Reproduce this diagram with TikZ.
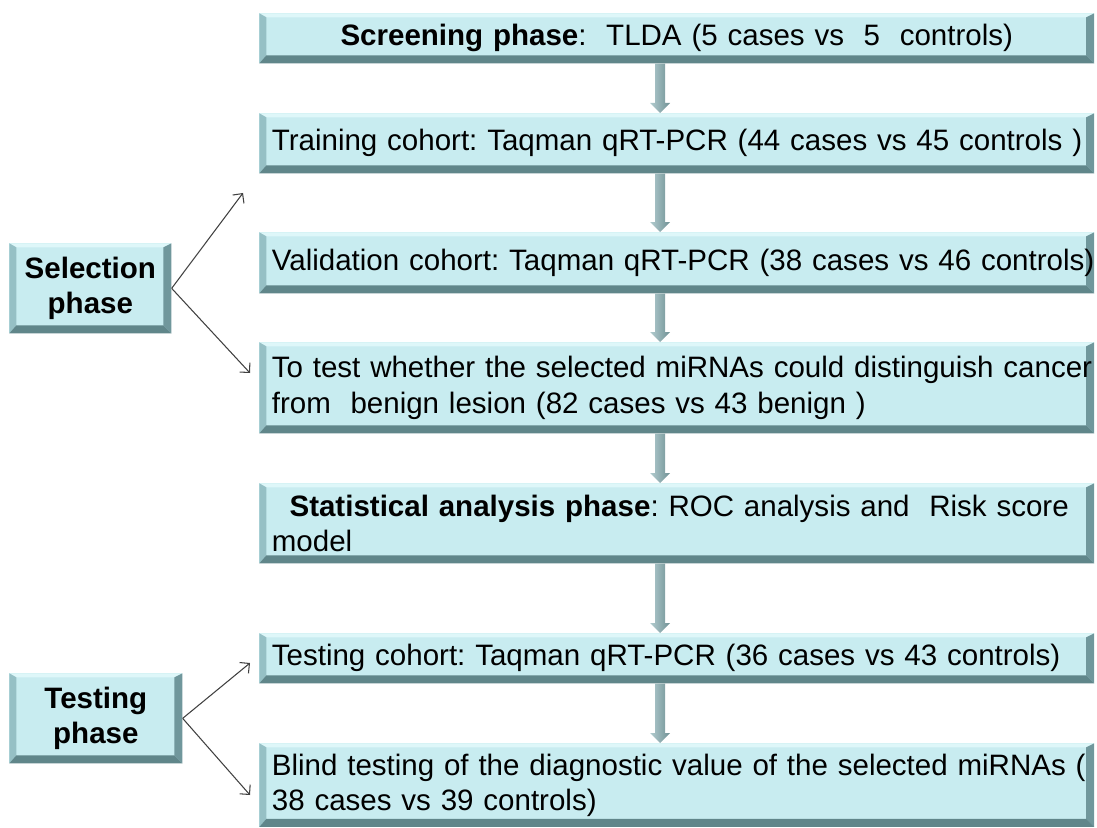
\documentclass[tikz,border=0pt]{standalone}
\usepackage{fontspec}
\setmainfont{Liberation Sans}
\usetikzlibrary{arrows.meta,calc}
\frenchspacing

\definecolor{boxfill}{RGB}{200,236,240}
\definecolor{boxlight}{RGB}{222,247,249}
\definecolor{boxside}{RGB}{150,192,197}
\definecolor{boxdark}{RGB}{96,134,138}
\definecolor{arrlight}{RGB}{178,204,207}
\definecolor{arrdark}{RGB}{112,145,149}

\tikzset{
  bevelbox/.style={fill=boxfill, inner xsep=0.25cm, inner ysep=0pt,
    anchor=north west, font=\fontsize{16.8}{20}\selectfont,
    path picture={
      \coordinate (bbsw) at (path picture bounding box.south west);
      \coordinate (bbne) at (path picture bounding box.north east);
      % bord haut clair
      \fill[boxlight] (bbsw |- bbne) -- (bbne) -- ($(bbne)+(-0.16cm,-0.08cm)$)
        -- ($(bbsw |- bbne)+(0.14cm,-0.08cm)$) -- cycle;
      % bord gauche
      \fill[boxside] (bbsw) -- (bbsw |- bbne) -- ($(bbsw |- bbne)+(0.14cm,-0.08cm)$)
        -- ($(bbsw)+(0.14cm,0.16cm)$) -- cycle;
      % bord droit
      \fill[boxdark!70!boxside] (bbne) -- (bbsw -| bbne) -- ($(bbsw -| bbne)+(-0.16cm,0.16cm)$)
        -- ($(bbne)+(-0.16cm,-0.08cm)$) -- cycle;
      % bord bas fonce
      \fill[boxdark] (bbsw) -- (bbsw -| bbne) -- ($(bbsw -| bbne)+(-0.16cm,0.16cm)$)
        -- ($(bbsw)+(0.14cm,0.16cm)$) -- cycle;
    }},
  mainbox/.style={bevelbox, text width=16.2cm, align=left},
  phasebox/.style={bevelbox, align=center, font=\bfseries\fontsize{16.8}{20}\selectfont},
  blockarrow/.style={left color=arrlight, right color=arrdark},
  thinarrow/.style={draw=black!75, line width=0.6pt, -{Straight Barb[length=4pt,width=8pt]}}
}

\begin{document}
\begin{tikzpicture}[x=0.02cm, y=-0.02cm]

  % cadre de la figure (en pixels)
  \useasboundingbox (0,0) rectangle (1097,827);

  % ==============================================
  % 1. Colonne des etapes
  % ==============================================
  \node[mainbox, align=center, minimum height=1.0cm] (scr) at (259,13)
    {\textbf{Screening phase}:\ \ TLDA (5 cases vs\ \ 5\ \ controls)};
  \node[mainbox, minimum height=1.2cm] (trn) at (259,113)
    {\mbox{Training cohort: Taqman qRT-PCR (44 cases vs 45 controls )}};
  \node[mainbox, minimum height=1.22cm] (val) at (259,232)
    {\mbox{Validation cohort: Taqman qRT-PCR (38 cases vs 46 controls)}};
  \node[mainbox, minimum height=1.82cm] (dis) at (259,342)
    {\mbox{To test whether the selected miRNAs could distinguish cancer}\\from\ \ benign lesion (82 cases vs 43 benign )};
  \node[mainbox, minimum height=1.6cm] (stat) at (259,483)
    {\hspace*{0.6em}\textbf{Statistical analysis phase}: ROC analysis and\ \ Risk score\\model};
  \node[mainbox, minimum height=1.0cm] (tst) at (259,633)
    {Testing cohort: Taqman qRT-PCR (36 cases vs 43 controls)};
  \node[mainbox, minimum height=1.67cm] (bld) at (259,743)
    {\mbox{Blind testing of the diagnostic value of the selected miRNAs (}\\38 cases vs 39 controls)};

  % ==============================================
  % 2. Phases a gauche
  % ==============================================
  \node[phasebox, minimum width=3.24cm, minimum height=1.8cm] (sel) at (9,243) {Selection\\phase};
  \node[phasebox, minimum width=3.46cm, minimum height=1.8cm] (tph) at (9,673) {Testing\\phase};

  % bouts libres des fleches fines
  \coordinate (s1) at (243,193);
  \coordinate (s2) at (250,373);
  \coordinate (t1) at (250,663);
  \coordinate (t2) at (250,795);

  \draw[thinarrow] (sel.east) -- (s1);
  \draw[thinarrow] (sel.east) -- (s2);
  \draw[thinarrow] (tph.east) -- (t1);
  \draw[thinarrow] (tph.east) -- (t2);

  % ==============================================
  % 3. Fleches pleines entre les etapes
  % ==============================================
  \coordinate (axis) at (660,0); % abscisse des fleches
  \foreach \a/\b in {scr/trn, trn/val, val/dis, dis/stat, stat/tst, tst/bld} {
    \path[blockarrow] let \p1=(\a.south -| axis), \p2=(\b.north -| axis) in
      (\x1-0.1cm,\y1) -- (\x1-0.1cm,\y2+0.2cm) -- (\x1-0.2cm,\y2+0.2cm) -- (\x1,\y2)
      -- (\x1+0.2cm,\y2+0.2cm) -- (\x1+0.1cm,\y2+0.2cm) -- (\x1+0.1cm,\y1) -- cycle;
  }

\end{tikzpicture}
\end{document}
